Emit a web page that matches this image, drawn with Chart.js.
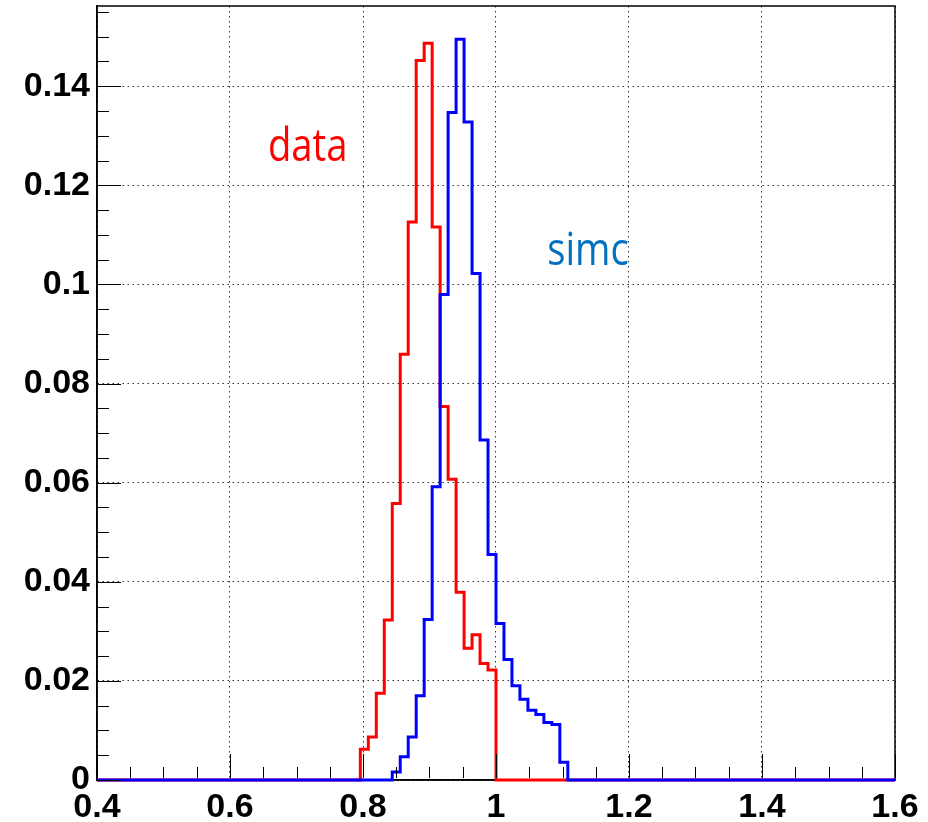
<!DOCTYPE html>
<html>
<head>
<meta charset="utf-8">
<script src="https://cdn.jsdelivr.net/npm/chart.js@4.4.1/dist/chart.umd.min.js"></script>
<style>
  html, body { margin: 0; padding: 0; background: #fff; }
  canvas { display: block; }
</style>
</head>
<body>
<canvas id="histChart" width="928" height="822"></canvas>
<script>
// binning of both histograms: 100 bins between 0.4 and 1.6
const xMin = 0.4;
const xMax = 1.6;
const nBins = 100;

// bin contents, 10 bins per row
const dataCounts = [
  0, 0, 0, 0, 0, 0, 0, 0, 0, 0,
  0, 0, 0, 0, 0, 0, 0, 0, 0, 0,
  0, 0, 0, 0, 0, 0, 0, 0, 0, 0,
  0, 0, 0, 0.0062, 0.0087, 0.0175, 0.0323, 0.0558, 0.0859, 0.1126,
  0.1452, 0.1487, 0.1116, 0.0754, 0.0607, 0.0379, 0.0266, 0.0293, 0.0235, 0.0222,
  0, 0, 0, 0, 0, 0, 0, 0, 0, 0,
  0, 0, 0, 0, 0, 0, 0, 0, 0, 0,
  0, 0, 0, 0, 0, 0, 0, 0, 0, 0,
  0, 0, 0, 0, 0, 0, 0, 0, 0, 0,
  0, 0, 0, 0, 0, 0, 0, 0, 0, 0
];

const simcCounts = [
  0, 0, 0, 0, 0, 0, 0, 0, 0, 0,
  0, 0, 0, 0, 0, 0, 0, 0, 0, 0,
  0, 0, 0, 0, 0, 0, 0, 0, 0, 0,
  0, 0, 0, 0, 0, 0, 0, 0.0016, 0.0047, 0.0087,
  0.0170, 0.0324, 0.0592, 0.0980, 0.1347, 0.1495, 0.1328, 0.1022, 0.0686, 0.0455,
  0.0316, 0.0243, 0.0190, 0.0163, 0.0141, 0.0132, 0.0116, 0.0112, 0.0036, 0,
  0, 0, 0, 0, 0, 0, 0, 0, 0, 0,
  0, 0, 0, 0, 0, 0, 0, 0, 0, 0,
  0, 0, 0, 0, 0, 0, 0, 0, 0, 0,
  0, 0, 0, 0, 0, 0, 0, 0, 0, 0
];

const xTickValues = [0.4, 0.6, 0.8, 1.0, 1.2, 1.4, 1.6];
const xTickLabels = ["0.4", "0.6", "0.8", "1", "1.2", "1.4", "1.6"];
const yTickValues = [0, 0.02, 0.04, 0.06, 0.08, 0.1, 0.12, 0.14];
const yTickLabels = ["0", "0.02", "0.04", "0.06", "0.08", "0.1", "0.12", "0.14"];
const yMax = 0.1562;

// text labels placed in data coordinates
const textLabels = [
  { text: "data", x: 0.657, y: 0.125, color: "#ff0000" },
  { text: "simc", x: 1.077, y: 0.104, color: "#0070c0" }
];

const binEdges = [];
for (let i = 0; i <= nBins; i++) {
  binEdges.push(+(xMin + i * (xMax - xMin) / nBins).toFixed(4));
}

function histPoints(counts) {
  const pts = counts.map((c, i) => ({ x: binEdges[i], y: c }));
  pts.push({ x: binEdges[nBins], y: counts[nBins - 1] });
  return pts;
}

const axisFont = { family: "'Liberation Sans', Arial, sans-serif", size: 34, weight: "bold" };

// ROOT style frame and inner ticks
const framePlugin = {
  id: "frame",
  beforeDatasetsDraw(chart) {
    const { ctx, chartArea: a } = chart;
    ctx.save();
    ctx.strokeStyle = "#000";
    ctx.lineWidth = 1.5;
    ctx.strokeRect(a.left, a.top, a.right - a.left, a.bottom - a.top);
    ctx.restore();
  },
  afterDatasetsDraw(chart) {
    const { ctx, chartArea: a, scales } = chart;
    ctx.save();
    ctx.strokeStyle = "#000";
    ctx.lineWidth = 1;
    ctx.beginPath();
    for (let i = 0; i * 0.005 <= yMax; i++) {
      const py = Math.round(scales.y.getPixelForValue(i * 0.005)) + 0.5;
      const len = i % 4 === 0 ? 24 : 12;
      ctx.moveTo(a.left, py);
      ctx.lineTo(a.left + len, py);
    }
    for (let i = 0; i <= 24; i++) {
      const px = Math.round(scales.x.getPixelForValue(xMin + i * 0.05)) + 0.5;
      const len = i % 4 === 0 ? 24 : 11;
      ctx.moveTo(px, a.bottom - 2);
      ctx.lineTo(px, a.bottom - 2 - len);
    }
    ctx.stroke();

    ctx.font = "45px 'Open Sans', sans-serif";
    ctx.textBaseline = "alphabetic";
    ctx.textAlign = "left";
    textLabels.forEach(lbl => {
      const px = scales.x.getPixelForValue(lbl.x);
      const py = scales.y.getPixelForValue(lbl.y);
      ctx.save();
      ctx.translate(px, py);
      ctx.scale(0.85, 1);
      ctx.fillStyle = lbl.color;
      ctx.fillText(lbl.text, 0, 0);
      ctx.restore();
    });
    ctx.restore();
  }
};

const ctx = document.getElementById("histChart").getContext("2d");

new Chart(ctx, {
  type: "line",
  data: {
    datasets: [
      {
        label: "simc",
        data: histPoints(simcCounts),
        borderColor: "#0000ff",
        borderWidth: 3,
        stepped: "before",
        pointRadius: 0,
        fill: false,
        clip: 4,
        order: 0
      },
      {
        label: "data",
        data: histPoints(dataCounts),
        borderColor: "#ff0000",
        borderWidth: 3,
        stepped: "before",
        pointRadius: 0,
        fill: false,
        clip: 4,
        order: 1
      }
    ]
  },
  options: {
    responsive: false,
    animation: false,
    layout: { padding: { top: 6, right: 33, left: 0, bottom: 0 } },
    plugins: {
      legend: { display: false },
      tooltip: { enabled: false }
    },
    scales: {
      x: {
        type: "linear",
        min: xMin,
        max: xMax,
        afterBuildTicks: s => { s.ticks = xTickValues.map(v => ({ value: v })); },
        afterFit: s => { s.height = 42; s.paddingLeft = 0; s.paddingRight = 0; },
        grid: { color: "#333", lineWidth: 1, drawTicks: false },
        border: { color: "#000", width: 1.5, dash: [1.5, 3.5] },
        ticks: {
          font: axisFont,
          color: "#000",
          padding: 7,
          maxRotation: 0,
          autoSkip: false,
          callback: (v, i) => xTickLabels[i]
        }
      },
      y: {
        type: "linear",
        min: 0,
        max: yMax,
        afterBuildTicks: s => { s.ticks = yTickValues.map(v => ({ value: v })); },
        afterFit: s => { s.width = 97; s.paddingTop = 0; s.paddingBottom = 0; },
        grid: { color: "#333", lineWidth: 1, drawTicks: false },
        border: { color: "#000", width: 1.5, dash: [1.5, 3.5] },
        ticks: {
          font: axisFont,
          color: "#000",
          padding: 7,
          autoSkip: false,
          callback: (v, i) => yTickLabels[i]
        }
      }
    }
  },
  plugins: [framePlugin]
});
</script>
</body>
</html>
